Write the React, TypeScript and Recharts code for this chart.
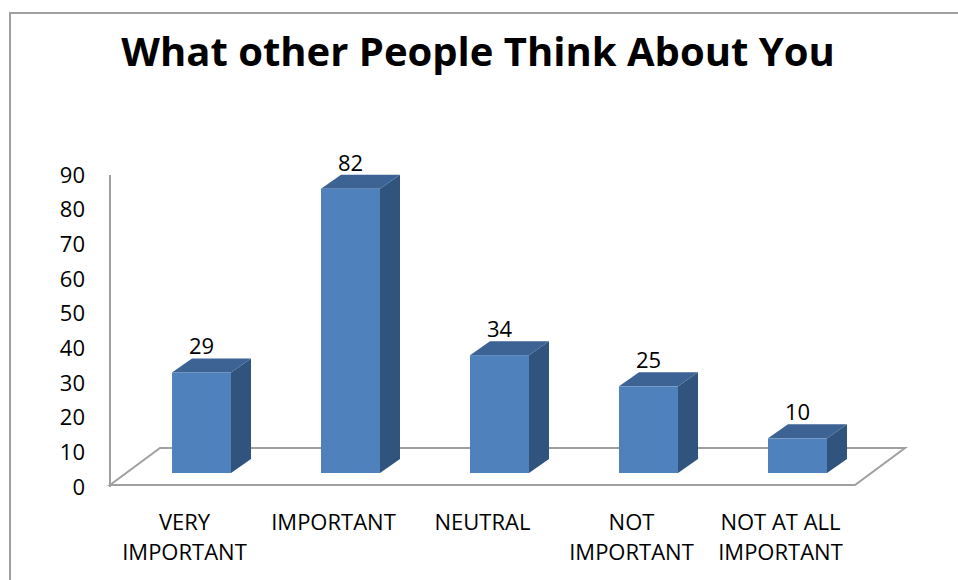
import { Bar, BarChart, Customized, LabelList, XAxis, YAxis } from "recharts";

const CATEGORIES = ["VERY IMPORTANT", "IMPORTANT", "NEUTRAL", "NOT IMPORTANT", "NOT AT ALL IMPORTANT"];
const COUNTS = [29, 82, 34, 25, 10];
const Y_TICKS = [0, 10, 20, 30, 40, 50, 60, 70, 80, 90];
const TITLE = "What other People Think About You";

const data = CATEGORIES.map((name, i) => ({ name, value: COUNTS[i] }));

const CHART_W = 958;
const CHART_H = 580;
const MARGIN = { top: 175, right: 103, bottom: 33, left: 50 };
const Y_AXIS_W = 60;
const X_AXIS_H = 60;

const PLOT_LEFT = MARGIN.left + Y_AXIS_W;
const PLOT_RIGHT = CHART_W - MARGIN.right;
const PLOT_BOTTOM = CHART_H - MARGIN.bottom - X_AXIS_H;

// 3d look: floor depth, bars sit halfway back, bar depth
const FLOOR_DX = 50;
const FLOOR_DY = 37;
const MID_DX = 17;
const MID_DY = 14;
const BAR_DX = 20;
const BAR_DY = 14;

const FONT = "'Open Sans', 'Liberation Sans', sans-serif";
const GRID_GREY = "#a0a0a0";
const FRONT = "#4f81bd";
const TOP = "#3c6393";
const SIDE = "#31547f";

function wrap(label: string, maxChars = 11) {
  const lines: string[] = [];
  let cur = "";
  for (const w of label.split(" ")) {
    const next = cur ? cur + " " + w : w;
    if (next.length > maxChars && cur) {
      lines.push(cur);
      cur = w;
    } else cur = next;
  }
  if (cur) lines.push(cur);
  return lines;
}

function Floor() {
  const pts = [
    [PLOT_LEFT, PLOT_BOTTOM - 2],
    [PLOT_RIGHT, PLOT_BOTTOM - 2],
    [PLOT_RIGHT + FLOOR_DX, PLOT_BOTTOM - 2 - FLOOR_DY],
    [PLOT_LEFT + FLOOR_DX, PLOT_BOTTOM - 2 - FLOOR_DY],
  ];
  return (
    <g>
      <text
        x={478}
        y={66}
        textAnchor="middle"
        fontFamily={FONT}
        fontWeight="bold"
        fontSize={40}
        fill="#000"
      >
        {TITLE}
      </text>
      <polygon
        points={pts.map((p) => p.join(",")).join(" ")}
        fill="none"
        stroke={GRID_GREY}
        strokeWidth={2}
      />
    </g>
  );
}

function Bar3D(props: any) {
  const { x, y, width, height } = props;
  if (!width || height == null) return null;
  const fx = x + MID_DX;
  const fy = y - MID_DY;
  const top = `${fx},${fy} ${fx + width},${fy} ${fx + width + BAR_DX},${fy - BAR_DY} ${fx + BAR_DX},${fy - BAR_DY}`;
  const side = `${fx + width},${fy} ${fx + width + BAR_DX},${fy - BAR_DY} ${fx + width + BAR_DX},${fy + height - BAR_DY} ${fx + width},${fy + height}`;
  return (
    <g>
      <polygon points={side} fill={SIDE} />
      <polygon points={top} fill={TOP} />
      <rect x={fx} y={fy} width={width} height={height} fill={FRONT} />
    </g>
  );
}

function ValueLabel(props: any) {
  const { x, y, width, value } = props;
  return (
    <text
      x={x + MID_DX + width / 2}
      y={y - MID_DY - 18}
      textAnchor="middle"
      fontFamily={FONT}
      fontSize={22}
      fill="#000"
    >
      {value}
    </text>
  );
}

function CategoryTick(props: any) {
  const { x, y, payload } = props;
  const lines = wrap(String(payload.value));
  return (
    <g>
      {lines.map((line, i) => (
        <text
          key={i}
          x={x}
          y={y + 41 + i * 30}
          textAnchor="middle"
          fontFamily={FONT}
          fontSize={22}
          fill="#000"
        >
          {line}
        </text>
      ))}
    </g>
  );
}

export default function App() {
  return (
    <div style={{ position: "absolute", left: 0, top: 0, width: CHART_W, height: CHART_H, background: "#fff" }}>
      <div
        style={{
          position: "absolute",
          left: 9,
          top: 12,
          right: 0,
          bottom: 0,
          borderTop: `2px solid ${GRID_GREY}`,
          borderLeft: `2px solid ${GRID_GREY}`,
        }}
      />
      <BarChart
        width={CHART_W}
        height={CHART_H}
        data={data}
        margin={MARGIN}
        style={{ position: "absolute", left: 0, top: 0 }}
      >
        <Customized component={Floor} />
        <XAxis
          dataKey="name"
          height={X_AXIS_H}
          axisLine={false}
          tickLine={false}
          tickSize={0}
          interval={0}
          tick={<CategoryTick />}
        />
        <YAxis
          width={Y_AXIS_W}
          domain={[0, 90]}
          ticks={Y_TICKS}
          axisLine={{ stroke: GRID_GREY, strokeWidth: 2 }}
          tickLine={false}
          tickSize={0}
          tickMargin={25}
          tick={{ fontFamily: FONT, fontSize: 22, fill: "#000" }}
        />
        <Bar dataKey="value" barSize={59} shape={<Bar3D />} isAnimationActive={false}>
          <LabelList dataKey="value" content={<ValueLabel />} />
        </Bar>
      </BarChart>
    </div>
  );
}
